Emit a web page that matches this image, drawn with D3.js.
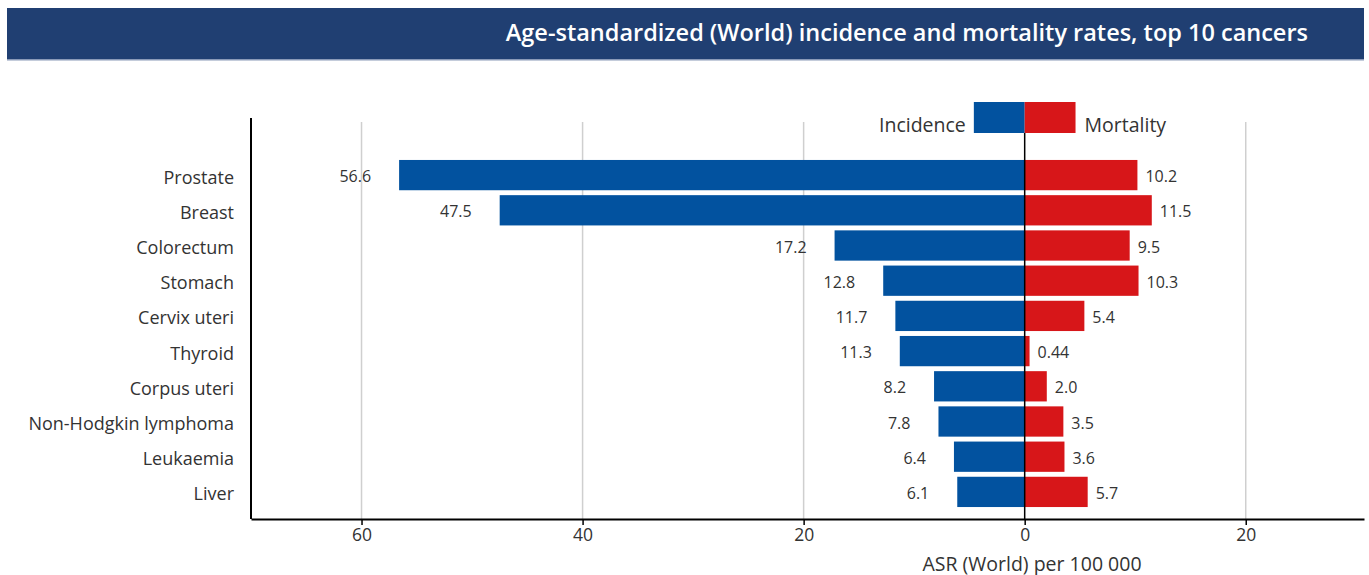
<!DOCTYPE html>
<html>
<head>
<meta charset="utf-8">
<script src="https://cdn.jsdelivr.net/npm/d3@7"></script>
<style>
  html, body { margin: 0; padding: 0; background: #fff; }
  svg { display: block; font-family: "Open Sans", "Noto Sans", sans-serif; }
</style>
</head>
<body>
<svg id="chart" width="1369" height="575"></svg>
<script>
const title = "Age-standardized (World) incidence and mortality rates, top 10 cancers";
const cancers = ["Prostate", "Breast", "Colorectum", "Stomach", "Cervix uteri", "Thyroid",
                 "Corpus uteri", "Non-Hodgkin lymphoma", "Leukaemia", "Liver"];
const incidence = [56.6, 47.5, 17.2, 12.8, 11.7, 11.3, 8.2, 7.8, 6.4, 6.1];
const mortality = [10.2, 11.5, 9.5, 10.3, 5.4, 0.44, 2.0, 3.5, 3.6, 5.7];
const tickValues = [-60, -40, -20, 0, 20];
const seriesNames = ["Incidence", "Mortality"];
const axisTitle = "ASR (World) per 100 000";

const BLUE = "#02529f", RED = "#d71619", TEXT = "#333";

const svg = d3.select("#chart");

// header band
svg.append("rect").attr("x", 7).attr("y", 8).attr("width", 1357).attr("height", 52).attr("fill", "#203f72");
svg.append("rect").attr("x", 7).attr("y", 59).attr("width", 1357).attr("height", 1.5).attr("fill", "#8a9ab8");
svg.append("text").attr("x", 1308).attr("y", 32).attr("text-anchor", "end")
  .attr("dominant-baseline", "central").attr("fill", "#fff")
  .attr("font-size", 23.5).attr("font-weight", 600).text(title);

const x = d3.scaleLinear().domain([-70, 30.7]).range([251, 1364]);
const y = d3.scaleBand().domain(cancers).range([157.5, 509.5]).paddingInner(0.14).paddingOuter(0.07);

const axisY = 519, gridTop = 122;

// gridlines
svg.append("g").selectAll("line").data(tickValues.filter(d => d !== 0)).join("line")
  .attr("x1", d => x(d)).attr("x2", d => x(d)).attr("y1", gridTop).attr("y2", axisY)
  .attr("stroke", "#cfcfcf").attr("stroke-width", 1.5);

// bars
svg.append("g").selectAll("rect").data(cancers).join("rect")
  .attr("x", (d, i) => x(-incidence[i])).attr("y", d => y(d))
  .attr("width", (d, i) => x(0) - x(-incidence[i])).attr("height", y.bandwidth())
  .attr("fill", BLUE);
svg.append("g").selectAll("rect").data(cancers).join("rect")
  .attr("x", x(0)).attr("y", d => y(d))
  .attr("width", (d, i) => x(mortality[i]) - x(0)).attr("height", y.bandwidth())
  .attr("fill", RED);

const fmt = v => v < 1 ? v.toFixed(2) : v.toFixed(1);

// value labels
svg.append("g").selectAll("text").data(cancers).join("text")
  .attr("x", (d, i) => x(-incidence[i]) - 28).attr("y", d => y(d) + y.bandwidth() / 2 + 1)
  .attr("text-anchor", "end").attr("dominant-baseline", "central")
  .attr("font-size", 16).attr("fill", TEXT).text((d, i) => fmt(incidence[i]));
svg.append("g").selectAll("text").data(cancers).join("text")
  .attr("x", (d, i) => x(mortality[i]) + 8).attr("y", d => y(d) + y.bandwidth() / 2 + 1)
  .attr("text-anchor", "start").attr("dominant-baseline", "central")
  .attr("font-size", 16).attr("fill", TEXT).text((d, i) => fmt(mortality[i]));

// category labels
svg.append("g").selectAll("text").data(cancers).join("text")
  .attr("x", 234).attr("y", d => y(d) + y.bandwidth() / 2 + 1.5)
  .attr("text-anchor", "end").attr("dominant-baseline", "central")
  .attr("font-size", 18).attr("fill", TEXT).text(d => d);

// legend
const legW = 4.6;
svg.append("rect").attr("x", x(-legW)).attr("y", 102).attr("width", x(0) - x(-legW)).attr("height", 31).attr("fill", BLUE);
svg.append("rect").attr("x", x(0)).attr("y", 102).attr("width", x(legW) - x(0)).attr("height", 31).attr("fill", RED);
svg.append("text").attr("x", x(-legW) - 8).attr("y", 132).attr("text-anchor", "end")
  .attr("font-size", 19.5).attr("fill", TEXT).text(seriesNames[0]);
svg.append("text").attr("x", x(legW) + 9).attr("y", 132).attr("text-anchor", "start")
  .attr("font-size", 19.5).attr("fill", TEXT).text(seriesNames[1]);

// zero line
svg.append("line").attr("x1", x(0)).attr("x2", x(0)).attr("y1", 133).attr("y2", axisY)
  .attr("stroke", "#000").attr("stroke-width", 1.5);

// left axis line
svg.append("line").attr("x1", 251).attr("x2", 251).attr("y1", 118).attr("y2", axisY)
  .attr("stroke", "#000").attr("stroke-width", 2);

// bottom axis
const gx = svg.append("g").attr("transform", `translate(0,${axisY})`)
  .call(d3.axisBottom(x).tickValues(tickValues).tickFormat(d => Math.abs(d))
    .tickSizeInner(6).tickSizeOuter(0).tickPadding(4));
gx.select(".domain").attr("stroke", "#000").attr("stroke-width", 2);
gx.selectAll(".tick line").attr("stroke", "#000").attr("stroke-width", 1.5);
gx.selectAll(".tick text").attr("font-size", 17.5).attr("fill", TEXT).attr("font-family", "'Open Sans', sans-serif");

svg.append("text").attr("x", 1032).attr("y", 563).attr("text-anchor", "middle")
  .attr("dominant-baseline", "central").attr("font-size", 19.5).attr("fill", TEXT).text(axisTitle);
</script>
</body>
</html>
